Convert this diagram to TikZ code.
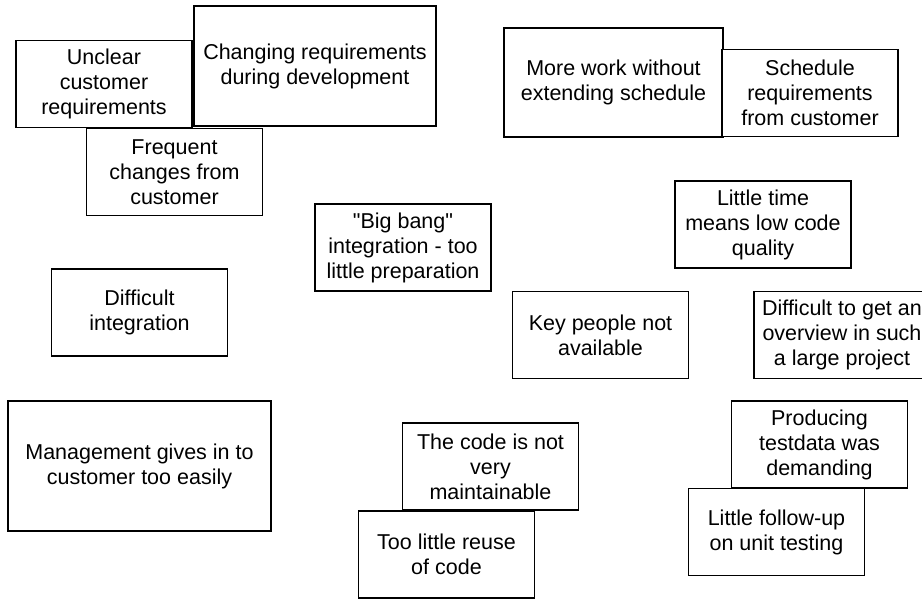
\documentclass[tikz,border=0pt]{standalone}
\usepackage{fontspec}
\setmainfont{Liberation Sans}[Ligatures=TeXOff]
\begin{document}
\begin{tikzpicture}[x=1pt,y=-1pt,
  card/.style={draw=black, line width=1.3pt, fill=white, inner sep=0pt,
    align=center, minimum width=176pt, minimum height=87pt,
    font=\fontsize{21.5}{25}\selectfont}]
\useasboundingbox (0,0) rectangle (922,600);
\clip (0,0) rectangle (922,600);
\fill[white] (0,0) rectangle (922,600);
% top left cluster
\node[card] (unclear) at (104,84) {Unclear\\customer\\requirements};
\node[card, minimum width=242pt, minimum height=120pt] (changing) at (315,66) {Changing requirements\\during development};
\node[card] (frequent) at (174.5,172) {Frequent\\changes from\\customer};
% top right cluster
\node[card, minimum width=219pt, minimum height=109pt] (morework) at (613.5,82.5) {More work without\\extending schedule};
\node[card] (schedule) at (810,93) {Schedule\\requirements\\from customer};
\node[card] (littletime) at (763,224.5) {Little time\\means low code\\quality};
% middle
\node[card] (bigbang) at (403,247.5) {"Big bang"\\integration - too\\little preparation};
\node[card] (diffint) at (139.5,312.5) {Difficult\\integration};
\node[card] (keypeople) at (600.5,335) {Key people not\\available};
\node[card] (overview) at (842,335) {Difficult to get an\\overview in such\\a large project};
% bottom
\node[card, minimum width=263pt, minimum height=130pt] (management) at (139.5,466) {Management gives in to\\customer too easily};
\node[card] (maintain) at (490.5,466.5) {The code is not\\very\\maintainable};
\node[card] (reuse) at (446.5,554.5) {Too little reuse\\of code};
\node[card] (testdata) at (819.5,444.5) {Producing\\testdata was\\demanding};
\node[card] (followup) at (776.5,532) {Little follow-up\\on unit testing};
\end{tikzpicture}
\end{document}
